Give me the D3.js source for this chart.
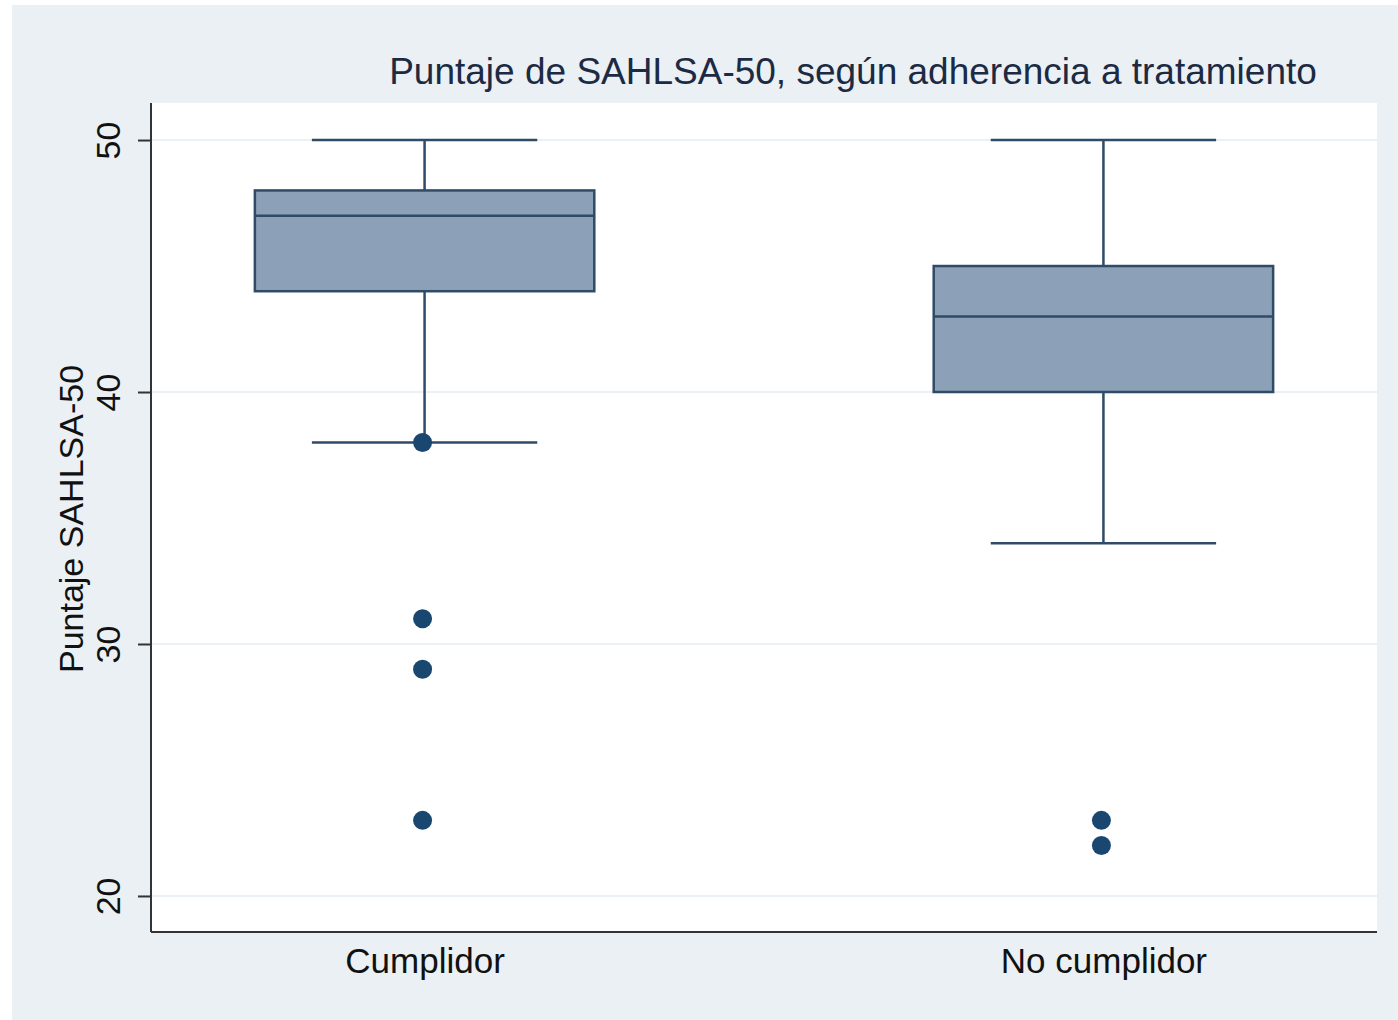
<!DOCTYPE html>
<html>
<head>
<meta charset="utf-8">
<script src="https://cdn.jsdelivr.net/npm/d3@7"></script>
<style>
  html, body { margin: 0; padding: 0; background: #ffffff; }
  svg { display: block; font-family: "Liberation Sans", Arial, Helvetica, sans-serif; }
</style>
</head>
<body>
<div id="chart"></div>
<script>
// data
var categories = ["Cumplidor", "No cumplidor"];
var whiskerHigh = [50, 50];
var q3 = [48, 45];
var median = [47, 43];
var q1 = [44, 40];
var whiskerLow = [38, 34];
var outliersCumplidor = [38, 31, 29, 23];
var outliersNoCumplidor = [23, 22];
var yTicks = [20, 30, 40, 50];

var titleText = "Puntaje de SAHLSA-50, según adherencia a tratamiento";
var yLabel = "Puntaje SAHLSA-50";

var W = 1398, H = 1020;
var plot = {left: 151, right: 1377, top: 103, bottom: 932};

var svg = d3.select("#chart").append("svg")
    .attr("width", W)
    .attr("height", H);

// outer graph region
svg.append("rect")
    .attr("x", 12).attr("y", 5)
    .attr("width", W - 12).attr("height", H - 5)
    .attr("fill", "#eaf0f3");

// plot region
svg.append("rect")
    .attr("x", plot.left).attr("y", plot.top)
    .attr("width", plot.right - plot.left)
    .attr("height", plot.bottom - plot.top)
    .attr("fill", "#ffffff");

var x = d3.scalePoint()
    .domain(categories)
    .range([plot.left, plot.right])
    .padding(0.403);

var y = d3.scaleLinear()
    .domain([18.57, 51.47])
    .range([plot.bottom, plot.top]);

var step = x.step();
var boxW = step * 0.5;
var capW = step * 0.332;

// gridlines
svg.append("g")
  .selectAll("line")
  .data(yTicks)
  .enter().append("line")
    .attr("x1", plot.left).attr("x2", plot.right)
    .attr("y1", function(d) { return y(d); })
    .attr("y2", function(d) { return y(d); })
    .attr("stroke", "#eaf0f3")
    .attr("stroke-width", 2);

var stroke = "#2f4b68";
var boxes = categories.map(function(c, i) {
  return {cat: c, hi: whiskerHigh[i], q3: q3[i], med: median[i], q1: q1[i], lo: whiskerLow[i]};
});

var g = svg.append("g");

// whiskers
g.selectAll(".whisker-up")
    .data(boxes)
  .enter().append("line")
    .attr("x1", function(d) { return x(d.cat); })
    .attr("x2", function(d) { return x(d.cat); })
    .attr("y1", function(d) { return y(d.hi); })
    .attr("y2", function(d) { return y(d.q3); })
    .attr("stroke", stroke).attr("stroke-width", 2.5);

g.selectAll(".whisker-down")
    .data(boxes)
  .enter().append("line")
    .attr("x1", function(d) { return x(d.cat); })
    .attr("x2", function(d) { return x(d.cat); })
    .attr("y1", function(d) { return y(d.q1); })
    .attr("y2", function(d) { return y(d.lo); })
    .attr("stroke", stroke).attr("stroke-width", 2.5);

// caps
["hi", "lo"].forEach(function(k) {
  g.selectAll(".cap-" + k)
      .data(boxes)
    .enter().append("line")
      .attr("x1", function(d) { return x(d.cat) - capW / 2; })
      .attr("x2", function(d) { return x(d.cat) + capW / 2; })
      .attr("y1", function(d) { return y(d[k]); })
      .attr("y2", function(d) { return y(d[k]); })
      .attr("stroke", stroke).attr("stroke-width", 2.5);
});

// boxes
g.selectAll(".box")
    .data(boxes)
  .enter().append("rect")
    .attr("x", function(d) { return x(d.cat) - boxW / 2; })
    .attr("y", function(d) { return y(d.q3); })
    .attr("width", boxW)
    .attr("height", function(d) { return y(d.q1) - y(d.q3); })
    .attr("fill", "#8ca1b7")
    .attr("stroke", stroke).attr("stroke-width", 2.5);

// medians
g.selectAll(".median")
    .data(boxes)
  .enter().append("line")
    .attr("x1", function(d) { return x(d.cat) - boxW / 2; })
    .attr("x2", function(d) { return x(d.cat) + boxW / 2; })
    .attr("y1", function(d) { return y(d.med); })
    .attr("y2", function(d) { return y(d.med); })
    .attr("stroke", stroke).attr("stroke-width", 2.5);

// outliers
var points = outliersCumplidor.map(function(v) { return {cat: categories[0], v: v}; })
  .concat(outliersNoCumplidor.map(function(v) { return {cat: categories[1], v: v}; }));

g.selectAll(".outlier")
    .data(points)
  .enter().append("circle")
    .attr("cx", function(d) { return x(d.cat) - 2; })
    .attr("cy", function(d) { return y(d.v); })
    .attr("r", 9.5)
    .attr("fill", "#1a476f");

// y axis
var yAxis = svg.append("g")
    .attr("transform", "translate(" + plot.left + ",0)")
    .call(d3.axisLeft(y).tickValues(yTicks).tickSize(13).tickPadding(8));
yAxis.select(".domain")
    .attr("d", "M0," + plot.top + "V" + plot.bottom)
    .attr("stroke", "#333").attr("stroke-width", 2);
yAxis.selectAll(".tick line").attr("stroke", "#333").attr("stroke-width", 2);
yAxis.selectAll(".tick text")
    .attr("font-size", 34)
    .attr("fill", "#111")
    .attr("transform", "rotate(-90,-31,0)")
    .attr("x", -31).attr("dy", 0).attr("y", 0)
    .attr("text-anchor", "middle");

// x axis
var xAxis = svg.append("g")
    .attr("transform", "translate(0," + plot.bottom + ")")
    .call(d3.axisBottom(x).tickSize(0).tickPadding(16));
xAxis.select(".domain")
    .attr("d", "M" + plot.left + ",0H" + plot.right)
    .attr("stroke", "#333").attr("stroke-width", 2);
xAxis.selectAll(".tick text")
    .attr("font-size", 35)
    .attr("fill", "#111")
    .attr("dy", "0.71em");

// y axis title
svg.append("text")
    .attr("transform", "translate(83,519) rotate(-90)")
    .attr("text-anchor", "middle")
    .attr("font-size", 34)
    .attr("fill", "#111")
    .text(yLabel);

// title
svg.append("text")
    .attr("x", 853).attr("y", 84)
    .attr("text-anchor", "middle")
    .attr("font-size", 37)
    .attr("fill", "#1c2a44")
    .text(titleText);
</script>
</body>
</html>
